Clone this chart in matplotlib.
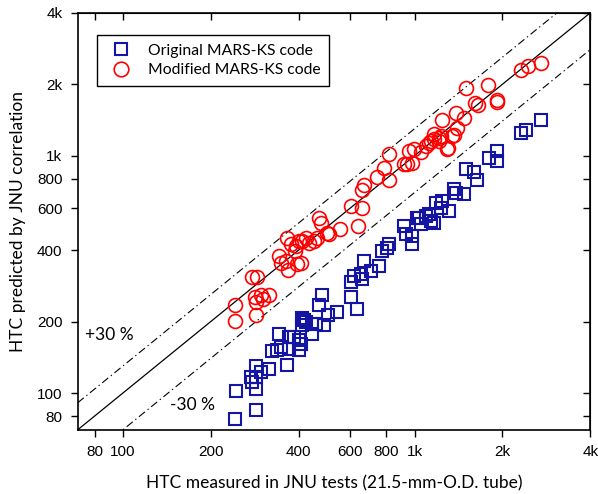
import numpy as np
import matplotlib
matplotlib.use("Agg")
from matplotlib import pyplot as plt
from matplotlib.ticker import FixedLocator, NullLocator, FuncFormatter

# Original MARS-KS code (blue squares): measured vs predicted HTC
orig_measured = [242, 285, 244, 285, 277, 285, 274, 285, 297, 316,
                 365, 324, 337, 348, 342, 371, 401, 371, 386, 401,
                 407, 411, 411, 424, 445, 445, 459, 489, 470, 481,
                 504, 542, 605, 635, 605, 620, 655, 660, 671, 709,
                 755, 773, 805, 817, 920, 935, 980, 980, 1020, 1053,
                 1095, 417, 1036, 1121, 1139, 1167, 1186, 1243, 1233, 1313,
                 1367, 1389, 1480, 1503, 1602, 1640, 1803, 1921, 1921, 2323,
                 2416, 2721]
orig_predicted = [77.6, 84.7, 102, 104, 111, 117, 117, 130, 123, 126,
                  131, 151, 152, 157, 178, 154, 152, 173, 173, 168,
                  161, 208, 194, 200, 196, 178, 196, 194, 236, 260,
                  214, 220, 255, 227, 295, 310, 316, 301, 359, 326,
                  342, 396, 408, 424, 505, 467, 458, 424, 546, 515,
                  557, 204, 546, 568, 530, 520, 632, 645, 602, 585,
                  725, 697, 690, 881, 856, 791, 981, 1050, 952, 1252,
                  1289, 1421]

# Modified MARS-KS code (red circles)
mod_measured = [242, 242, 277, 288, 283, 297, 302, 316, 285, 285,
                342, 348, 362, 368, 395, 365, 376, 392, 401, 411,
                424, 434, 452, 462, 508, 470, 477, 500, 555, 640,
                605, 660, 660, 671, 743, 786, 817, 817, 920, 942,
                980, 957, 996, 1053, 1095, 1121, 1167, 1214, 1293, 1345,
                1503, 1789, 1614, 1653, 1921, 1921, 2323, 2455, 2721, 1243,
                1389, 1480, 1400, 1367, 1167, 1233, 1214, 1303, 1139, 407,
                388]
mod_predicted = [236, 202, 307, 307, 255, 258, 250, 258, 214, 243,
                 377, 352, 359, 329, 349, 449, 424, 416, 436, 436,
                 449, 428, 436, 449, 467, 546, 520, 472, 491, 505,
                 614, 602, 718, 754, 815, 890, 791, 1020, 925, 925,
                 934, 1050, 1071, 1040, 1103, 1135, 1180, 1192, 1071, 1215,
                 1923, 1981, 1661, 1629, 1711, 1677, 2292, 2383, 2454, 1421,
                 1507, 1435, 1314, 1227, 1239, 1215, 1158, 1081, 1158, 352,
                 396]

tick_values = [80, 100, 200, 400, 600, 800, 1000, 2000, 4000]
axis_min, axis_max = 70, 4000
band = 0.30

label_font = "Lato"
plt.rcParams['font.family'] = ['Liberation Sans', 'DejaVu Sans']

fig = plt.figure(figsize=(5.98, 4.94), dpi=100)
ax = fig.add_axes([0.130, 0.130, 0.857, 0.844])

line_x = np.array([axis_min, axis_max])
ax.plot(line_x, line_x, color='black', lw=0.9, zorder=1)
ax.plot(line_x, line_x * (1 + band), color='black', lw=0.8,
        ls=(0, (7, 3, 1.2, 3)), zorder=1)
ax.plot(line_x, line_x * (1 - band), color='black', lw=0.8,
        ls=(0, (7, 3, 1.2, 3)), zorder=1)

ax.plot(orig_measured, orig_predicted, ls='none', marker='s', ms=8.5,
        mfc='none', mec='#1515a3', mew=1.5, label='Original MARS-KS code', zorder=3)
ax.plot(mod_measured, mod_predicted, ls='none', marker='o', ms=10,
        mfc='none', mec='#ff0000', mew=1.2, label='Modified MARS-KS code', zorder=3)

ax.set_xscale('log')
ax.set_yscale('log')
ax.set_xlim(axis_min, axis_max)
ax.set_ylim(axis_min, axis_max)

fmt = FuncFormatter(lambda v, p: f"{int(v/1000)}k" if v >= 1000 else f"{int(v)}")
for axis in (ax.xaxis, ax.yaxis):
    axis.set_major_locator(FixedLocator(tick_values))
    axis.set_minor_locator(NullLocator())
    axis.set_major_formatter(fmt)
ax.tick_params(direction='out', length=5, width=1, labelsize=11, pad=6)

# mirrored ticks pointing inward on top and right
top = ax.secondary_xaxis('top')
right = ax.secondary_yaxis('right')
for sec, axis in ((top, top.xaxis), (right, right.yaxis)):
    axis.set_major_locator(FixedLocator(tick_values))
    axis.set_minor_locator(NullLocator())
    sec.tick_params(direction='in', length=5, width=1, labelsize=0)
    axis.set_major_formatter(FuncFormatter(lambda v, p: ""))

for sp in ax.spines.values():
    sp.set_linewidth(1.2)

ax.set_xlabel('HTC measured in JNU tests (21.5-mm-O.D. tube)',
              fontsize=12.5, family=label_font, labelpad=12)
ax.set_ylabel('HTC predicted by JNU correlation',
              fontsize=12.5, family=label_font, labelpad=8)

ax.text(0.014, 0.228, '+30 %', transform=ax.transAxes, fontsize=12.5,
        family=label_font, va='center', ha='left')
ax.text(0.180, 0.060, '-30 %', transform=ax.transAxes, fontsize=12.5,
        family=label_font, va='center', ha='left')

leg = ax.legend(loc='upper left', bbox_to_anchor=(0.037, 0.947), borderaxespad=0,
                fancybox=False, edgecolor='black', framealpha=1,
                prop={'family': label_font, 'size': 11.3},
                handletextpad=0.7, borderpad=0.55, labelspacing=0.35,
                markerscale=1.05)
leg.get_frame().set_linewidth(1.0)

fig.savefig('out.png', dpi=100)
